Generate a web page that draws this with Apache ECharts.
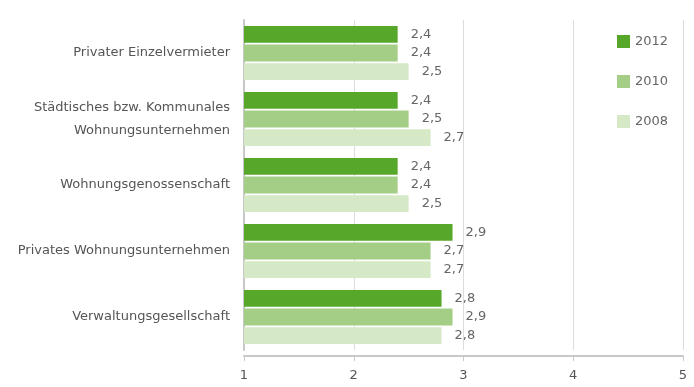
<!DOCTYPE html>
<html>
  <head>
    <meta charset="utf-8">
    <title></title>
    <style>
    html, body {margin:0; padding:0; background:#fff;}
    #chart {width:694px; height:387px;}
    </style>
    <script src="https://cdn.jsdelivr.net/npm/echarts@6/dist/echarts.min.js"></script>
  </head>
  <body>
    <div id="chart"></div>
    <script>
    // categories, top to bottom
    let categories = [
      'Privater Einzelvermieter',
      'Städtisches bzw. Kommunales\nWohnungsunternehmen',
      'Wohnungsgenossenschaft',
      'Privates Wohnungsunternehmen',
      'Verwaltungsgesellschaft'
    ];
    let years = ['2012', '2010', '2008'];
    let v2012 = [2.4, 2.4, 2.4, 2.9, 2.8];
    let v2010 = [2.4, 2.5, 2.4, 2.7, 2.9];
    let v2008 = [2.5, 2.7, 2.5, 2.7, 2.8];
    let xTicks = [1, 2, 3, 4, 5];
    let colors = ['#57a72b', '#a4cd86', '#d6e9c6'];

    let font = 'DejaVu Sans';
    let values = [v2012, v2010, v2008];

    let chart = echarts.init(document.getElementById('chart'));
    chart.setOption({
      animation: false,
      textStyle: {fontFamily: font},
      legend: {
        orient: 'vertical',
        left: 612,
        top: 30,
        itemWidth: 13,
        itemHeight: 13,
        itemGap: 27,
        icon: 'rect',
        backgroundColor: '#fff',
        textStyle: {color: '#666', fontSize: 13, fontFamily: font},
        data: years
      },
      grid: {left: 244, right: 11, top: 20, bottom: 37},
      xAxis: {
        type: 'value',
        min: xTicks[0],
        max: xTicks[xTicks.length - 1],
        interval: 1,
        offset: 6,
        axisLine: {show: true, lineStyle: {color: '#c8c8c8', width: 2}},
        axisTick: {show: true, length: 5, lineStyle: {color: '#c8c8c8'}},
        axisLabel: {color: '#555', fontSize: 13, margin: 13, fontFamily: font},
        splitLine: {show: true, lineStyle: {color: '#dcdcdc'}}
      },
      yAxis: {
        type: 'category',
        inverse: true,
        data: categories,
        axisLine: {show: true, lineStyle: {color: '#c8c8c8', width: 2}},
        axisTick: {show: false},
        axisLabel: {color: '#555', fontSize: 13, margin: 14, lineHeight: 23, fontFamily: font}
      },
      series: years.map((y, i) => ({
        name: y,
        type: 'bar',
        data: values[i],
        barCategoryGap: '18%',
        barGap: '10%',
        itemStyle: {color: colors[i]},
        label: {
          show: true,
          position: 'right',
          distance: 13,
          color: '#666',
          fontSize: 13,
          fontFamily: font,
          formatter: p => p.value.toFixed(1).replace('.', ',')
        }
      }))
    });
    </script>
  </body>
</html>
